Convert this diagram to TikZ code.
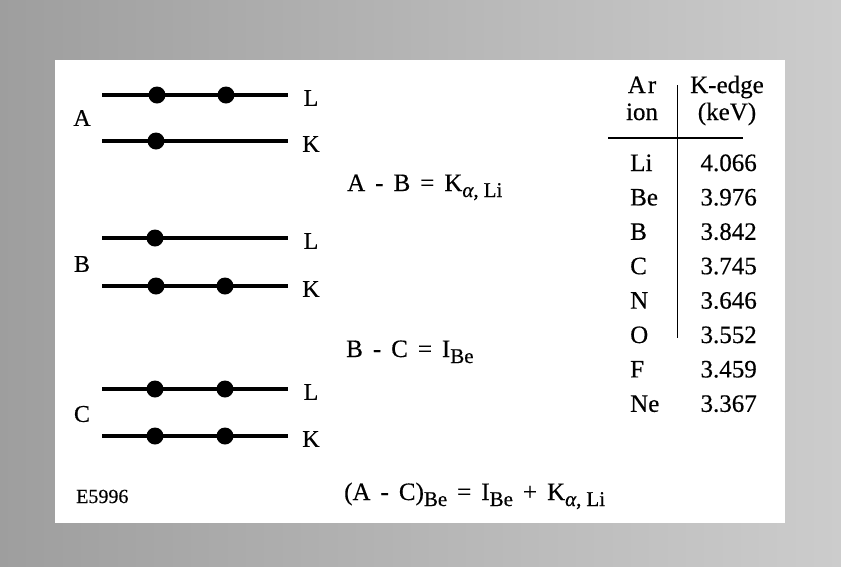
\documentclass[tikz,border=0pt]{standalone}
\usepackage{fontspec}
\setmainfont{Liberation Serif}[FakeBold=0.4]
% lowered subscript used in the relations
\newcommand\lowsub[1]{\raisebox{-6pt}{\fontsize{21}{21}\selectfont\spaceskip=5pt\relax #1}}
\begin{document}
\begin{tikzpicture}[x=1pt,y=-1pt,
  level/.style={line width=3.2pt},
  electron/.style={circle,fill=black,inner sep=0pt,minimum size=17pt},
  lbl/.style={font=\fontsize{24}{24}\selectfont,inner sep=0pt},
  eqn/.style={font={\fontsize{25}{25}\selectfont\spaceskip=10pt\relax},inner sep=0pt,anchor=base west},
  cell/.style={font=\fontsize{25}{25}\selectfont,inner sep=0pt},
  rule/.style={line width=1.4pt}]
\useasboundingbox (0,0) rectangle (841,566);
% dithered frame and white panel
\shade[left color=black!38,right color=black!20] (0,0) rectangle (841,566);
\fill[white] (55,60) rectangle (785,523);

% energy levels of the three configurations
\foreach \g/\yl/\yk in {a/95/141,b/238/286,c/389/436}{
  \coordinate (\g L0) at (102,\yl); \coordinate (\g L1) at (288,\yl);
  \coordinate (\g K0) at (102,\yk); \coordinate (\g K1) at (288,\yk);
  \draw[level] (\g L0) -- (\g L1);
  \draw[level] (\g K0) -- (\g K1);
  \node[lbl] (\g Lt) at (311,\yl+3) {L};
  \node[lbl] (\g Kt) at (311,\yk+3) {K};
}
\node[lbl] (aname) at (82,118) {A};
\node[lbl] (bname) at (82,264) {B};
\node[lbl] (cname) at (82,414) {C};

% electrons
\node[electron] (aL1e) at (157,95) {};
\node[electron] (aL2e) at (226,95) {};
\node[electron] (aK1e) at (156,141) {};
\node[electron] (bL1e) at (155,238) {};
\node[electron] (bK1e) at (156,286) {};
\node[electron] (bK2e) at (225,286) {};
\node[electron] (cL1e) at (155,389) {};
\node[electron] (cL2e) at (225,389) {};
\node[electron] (cK1e) at (155,436) {};
\node[electron] (cK2e) at (225,436) {};

% relations
\node[eqn] (eq1) at (347,191) {A - B = K\lowsub{\textit{α}, Li}};
\node[eqn] (eq2) at (346,357) {B - C = I\lowsub{Be}};
\node[eqn] (eq3) at (344,500) {(A - C)\lowsub{Be} = I\lowsub{Be} + K\lowsub{\textit{α}, Li}};
\node[font=\fontsize{20}{20}\selectfont,inner sep=0pt,anchor=base west] (tag) at (76,503) {E5996};

% table of K-edges
\node[cell,anchor=base] (h1a) at (642,93) {A\kern2pt r};
\node[cell,anchor=base] (h1b) at (642,120) {ion};
\node[cell,anchor=base] (h2a) at (727,93) {K-edge};
\node[cell,anchor=base] (h2b) at (727,120) {(keV)};
\coordinate (hr0) at (608,138); \coordinate (hr1) at (743,138);
\coordinate (vr0) at (677,85);  \coordinate (vr1) at (677,338);
\draw[rule] (hr0) -- (hr1);
\draw[line width=0.9pt] (vr0) -- (vr1);
\foreach \el/\kv [count=\i from 0] in {Li/4.066,Be/3.976,B/3.842,C/3.745,N/3.646,O/3.552,F/3.459,Ne/3.367}{
  \node[cell,anchor=base west] (el\i) at (630,171+34.4*\i) {\el};
  \node[cell,anchor=base east] (kv\i) at (757,171+34.4*\i) {\kv};
}
\end{tikzpicture}
\end{document}
